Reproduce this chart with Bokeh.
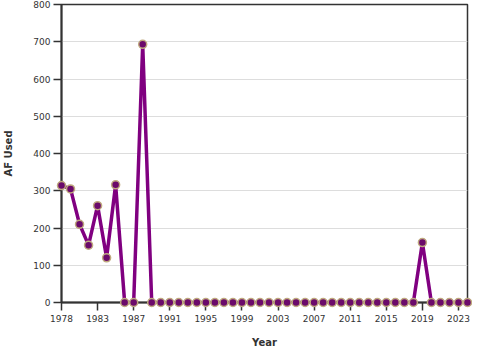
from bokeh.plotting import figure
from bokeh.models import FixedTicker, Range1d, ColumnDataSource
from bokeh.embed import file_html
from bokeh.resources import INLINE

years = [1978, 1979, 1980, 1981, 1983, 1984, 1985, 1986, 1987, 1988,
         1989, 1990, 1991, 1992, 1993, 1994, 1995, 1996, 1997, 1998,
         1999, 2000, 2001, 2002, 2003, 2004, 2005, 2006, 2007, 2008,
         2009, 2010, 2011, 2012, 2013, 2014, 2015, 2016, 2017, 2018,
         2019, 2020, 2021, 2022, 2023, 2024]
af_used = [314, 305, 210, 154, 260, 120, 316, 0, 0, 693,
           0, 0, 0, 0, 0, 0, 0, 0, 0, 0,
           0, 0, 0, 0, 0, 0, 0, 0, 0, 0,
           0, 0, 0, 0, 0, 0, 0, 0, 0, 0,
           161, 0, 0, 0, 0, 0]
y_ticks = [0, 100, 200, 300, 400, 500, 600, 700, 800]

pos = list(range(len(years)))
src = ColumnDataSource(dict(x=pos, y=af_used, year=years))

p = figure(width=472, height=352, output_backend="svg", toolbar_location=None,
           x_range=Range1d(0, len(years) - 1), y_range=Range1d(0, 800),
           min_border_top=4, min_border_right=5, min_border_left=60, min_border_bottom=50)

p.line("x", "y", source=src, line_color="#800080", line_width=3.5)
r = p.scatter("x", "y", source=src, size=8, fill_color="#6b0a6b",
              line_color="#bfa97e", line_width=1.5)
r.level = "overlay"

p.outline_line_color = "#333333"
p.outline_line_width = 1.5
p.background_fill_color = "white"
p.border_fill_color = "white"

tick_pos = pos[::4]
p.xaxis.ticker = FixedTicker(ticks=tick_pos)
p.xaxis.major_label_overrides = {i: str(years[i]) for i in tick_pos}
p.yaxis.ticker = FixedTicker(ticks=y_ticks)
p.xgrid.visible = False
p.ygrid.grid_line_color = "#dddddd"
p.ygrid.grid_line_width = 1

for ax in (p.xaxis, p.yaxis):
    ax.axis_line_color = "#333333"
    ax.axis_line_width = 2
    ax.major_tick_line_color = "#333333"
    ax.major_tick_line_width = 1.5
    ax.major_tick_out = 8
    ax.major_tick_in = 0
    ax.minor_tick_out = 0
    ax.minor_tick_in = 0
    ax.major_label_text_font = "DejaVu Sans"
    ax.major_label_text_font_size = "9px"
    ax.major_label_text_color = "#333333"
    ax.axis_label_text_font = "DejaVu Sans"
    ax.axis_label_text_font_size = "10px"
    ax.axis_label_text_font_style = "bold"
    ax.axis_label_text_color = "#333333"

p.xaxis.axis_label = "Year"
p.yaxis.axis_label = "AF Used"
p.xaxis.major_label_standoff = 4
p.yaxis.major_label_standoff = 3
p.xaxis.axis_label_standoff = 12
p.yaxis.axis_label_standoff = 16

open("out.html", "w").write(file_html(p, INLINE))
